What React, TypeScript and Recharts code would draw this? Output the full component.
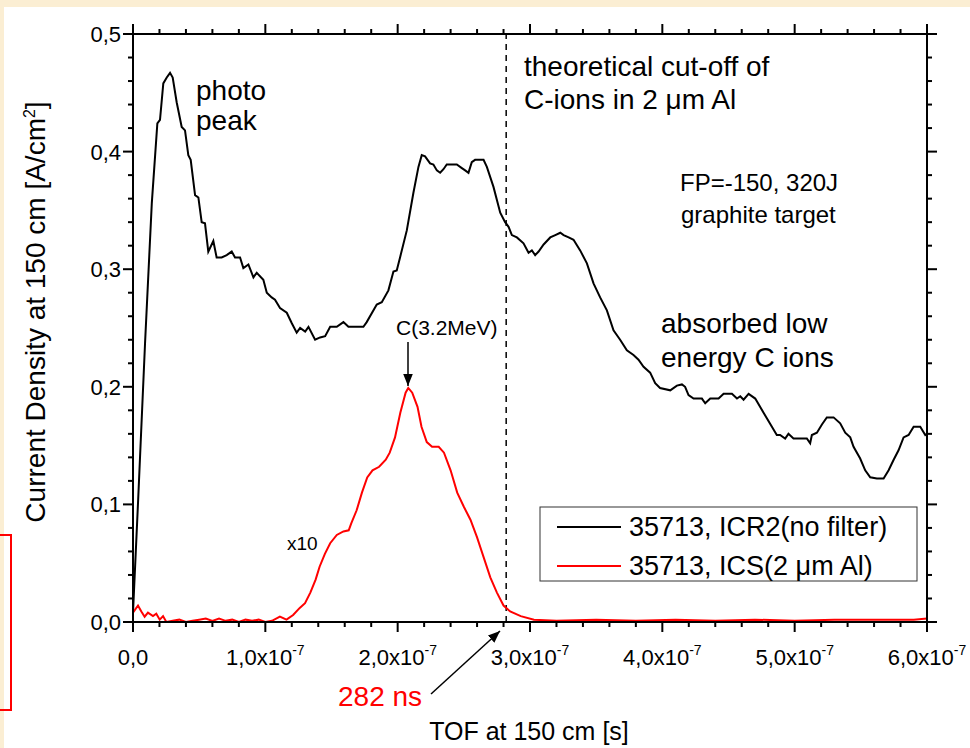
import React from "react";
import { LineChart, Line, XAxis, YAxis, ReferenceLine } from "recharts";

const FONT = '"Liberation Sans", Arial, Helvetica, sans-serif';

// 35713, ICR2 (no filter) - time of flight in ns, current density in A/cm2
const ICR2_TIME = [
  0, 3.9, 9.1, 14.2, 18.4, 20.4, 22.9, 25.5, 28.0, 30.0, 33.0, 36.8, 39.3, 41.8, 43.6, 46.9, 49.4,
  51.9, 54.4, 56.9, 60.7, 63.2, 67.0, 70.8, 74.6, 77.1, 80.9, 83.4, 87.2, 91.0, 93.5, 98.5, 101.1,
  104.8, 107.3, 111.1, 116.2, 120.0, 123.7, 126.3, 130.1, 132.6, 137.6, 141.4, 145.2, 149.0, 154.0,
  159.0, 162.8, 169.1, 174.1, 176.6, 184.2, 188.0, 193.0, 196.8, 199.3, 201.8, 206.9, 211.9, 215.7,
  218.2, 220.7, 224.5, 227.0, 229.6, 232.1, 234.6, 237.1, 244.7, 248.5, 251.0, 253.5, 256.0, 258.5,
  264.9, 267.4, 272.4, 277.5, 281.2, 283.8, 286.3, 290.1, 295.1, 298.9, 301.4, 303.9, 306.5, 310.3,
  315.3, 319.1, 322.9, 325.4, 329.2, 332.9, 337.9, 343.0, 348.0, 353.0, 358.1, 363.1, 368.1, 373.2,
  378.2, 382.0, 385.8, 390.8, 394.6, 398.3, 406.0, 411.0, 414.8, 417.2, 419.8, 423.6, 429.9, 432.4,
  436.2, 442.5, 446.3, 452.6, 456.4, 458.9, 461.4, 465.2, 470.2, 476.5, 486.5, 489.0, 492.8, 495.3,
  499.1, 509.2, 511.7, 513.0, 516.8, 520.6, 524.3, 529.4, 534.4, 538.2, 542.0, 544.5, 549.5, 553.3,
  557.1, 562.1, 567.2, 571.0, 574.8, 578.5, 582.3, 586.1, 589.9, 594.9, 598.7, 600,
];
const ICR2_DENSITY = [
  0.008, 0.104, 0.237, 0.356, 0.424, 0.427, 0.458, 0.463, 0.467, 0.463, 0.442, 0.421, 0.418, 0.397,
  0.393, 0.363, 0.361, 0.34, 0.339, 0.315, 0.324, 0.31, 0.31, 0.312, 0.315, 0.31, 0.31, 0.301,
  0.304, 0.293, 0.297, 0.291, 0.28, 0.276, 0.274, 0.267, 0.263, 0.254, 0.246, 0.25, 0.247, 0.251,
  0.24, 0.242, 0.243, 0.251, 0.251, 0.255, 0.251, 0.251, 0.251, 0.255, 0.27, 0.272, 0.282, 0.298,
  0.299, 0.31, 0.333, 0.365, 0.387, 0.397, 0.396, 0.39, 0.389, 0.384, 0.382, 0.385, 0.389, 0.389,
  0.386, 0.384, 0.382, 0.391, 0.393, 0.393, 0.387, 0.37, 0.348, 0.34, 0.336, 0.329, 0.327, 0.322,
  0.314, 0.316, 0.312, 0.315, 0.321, 0.327, 0.329, 0.331, 0.329, 0.327, 0.325, 0.316, 0.305, 0.288,
  0.276, 0.265, 0.248, 0.24, 0.231, 0.227, 0.223, 0.217, 0.212, 0.203, 0.199, 0.197, 0.201, 0.202,
  0.2, 0.193, 0.19, 0.19, 0.186, 0.19, 0.19, 0.194, 0.194, 0.19, 0.192, 0.189, 0.194, 0.19, 0.178,
  0.159, 0.159, 0.156, 0.16, 0.156, 0.156, 0.152, 0.159, 0.161, 0.168, 0.174, 0.174, 0.169, 0.161,
  0.157, 0.149, 0.139, 0.129, 0.123, 0.122, 0.122, 0.129, 0.138, 0.146, 0.157, 0.159, 0.166, 0.166,
  0.159, 0.16,
];

// 35713, ICS (2 um Al) - shown x10
const ICS_TIME = [
  0, 3.8, 6.3, 8.8, 11.3, 15.1, 17.6, 20.2, 22.7, 25.2, 30, 35, 40, 45, 50, 55, 60, 65, 70, 75, 80,
  85, 90, 95, 100, 105, 111, 116, 121, 126, 130, 134, 138, 141, 145, 149, 154, 159, 163, 165, 169,
  173, 177, 181, 186, 191, 194, 198, 202, 206, 208, 211, 215, 218, 222, 226, 231, 235, 240, 245,
  250, 255, 260, 265, 270, 275, 280, 285, 293, 303, 320, 350, 380, 410, 440, 470, 500, 530, 560,
  590, 600,
];
const ICS_DENSITY_X10 = [
  0.008, 0.014, 0.009, 0.0045, 0.008, 0.005, 0.007, 0.002, 0.005, 0.0, 0.001, 0.002, 0.0, 0.001,
  0.002, 0.003, 0.001, 0.003, 0.001, 0.002, 0.0, 0.002, 0.001, 0.002, 0.0, 0.001, 0.0045, 0.002,
  0.006, 0.012, 0.016, 0.025, 0.036, 0.047, 0.058, 0.067, 0.074, 0.077, 0.078, 0.084, 0.095, 0.11,
  0.123, 0.129, 0.132, 0.138, 0.144, 0.157, 0.178, 0.195, 0.199, 0.195, 0.183, 0.166, 0.153, 0.149,
  0.149, 0.144, 0.129, 0.11, 0.098, 0.087, 0.072, 0.055, 0.038, 0.025, 0.014, 0.009, 0.005, 0.002,
  0.001, 0.002, 0.001, 0.002, 0.001, 0.002, 0.001, 0.002, 0.002, 0.002, 0.003,
];

const X_MAJOR_TICKS = [0, 100, 200, 300, 400, 500, 600];
const Y_MAJOR_TICKS = [0, 0.1, 0.2, 0.3, 0.4, 0.5];
const CUTOFF_NS = 282;

const X_TICKS = Array.from({ length: 31 }, (_, i) => i * 20);
const Y_TICKS = Array.from({ length: 26 }, (_, i) => (i * 2) / 100);

const icr2Data = ICR2_TIME.map((t, i) => ({ t, j: ICR2_DENSITY[i] }));
const icsData = ICS_TIME.map((t, i) => ({ t, j: ICS_DENSITY_X10[i] }));

const isMajorX = (v: number) => X_MAJOR_TICKS.includes(Math.round(v));
const isMajorY = (v: number) => Y_MAJOR_TICKS.some((m) => Math.abs(m - v) < 1e-6);

const fmt = (v: number) => v.toFixed(1).replace(".", ",");

function BottomTick({ x, y, payload }: any) {
  const v = payload.value;
  const major = isMajorX(v);
  return (
    <g>
      <line x1={x} y1={y} x2={x} y2={y + (major ? 10 : 5)} stroke="#000" strokeWidth={2} />
      {major ? (
        <text x={x} y={y + 43} textAnchor="middle" fontSize={22} fontFamily={FONT} fill="#000">
          {v === 0 ? (
            "0,0"
          ) : (
            <>
              {fmt(v / 100)}x10
              <tspan dy={-10} fontSize={14}>
                -7
              </tspan>
            </>
          )}
        </text>
      ) : null}
    </g>
  );
}

function TopTick({ x, y, payload }: any) {
  const len = isMajorX(payload.value) ? 10 : 5;
  return <line x1={x} y1={y} x2={x} y2={y - len} stroke="#000" strokeWidth={2} />;
}

function LeftTick({ x, y, payload }: any) {
  const v = payload.value;
  const major = isMajorY(v);
  return (
    <g>
      <line x1={x} y1={y} x2={x - (major ? 10 : 5)} y2={y} stroke="#000" strokeWidth={2} />
      {major ? (
        <text x={x - 12} y={y} dy="0.36em" textAnchor="end" fontSize={22} fontFamily={FONT} fill="#000">
          {fmt(v)}
        </text>
      ) : null}
    </g>
  );
}

function RightTick({ x, y, payload }: any) {
  const len = isMajorY(payload.value) ? 10 : 5;
  return <line x1={x} y1={y} x2={x + len} y2={y} stroke="#000" strokeWidth={2} />;
}

function Annotations() {
  const t = { fontFamily: FONT, fill: "#000" };
  return (
    <svg
      width={970}
      height={748}
      style={{ position: "absolute", left: 0, top: 0, pointerEvents: "none" }}
    >
      <defs>
        <marker id="head" viewBox="0 0 10 10" refX="10" refY="5" markerWidth="8" markerHeight="8" orient="auto">
          <path d="M0,1 L10,5 L0,9 z" fill="#000" />
        </marker>
      </defs>
      <text {...t} fontSize={28}>
        <tspan x={196} y={100}>photo</tspan>
        <tspan x={196} y={130}>peak</tspan>
      </text>
      <text {...t} fontSize={28}>
        <tspan x={524} y={76}>theoretical cut-off of</tspan>
        <tspan x={524} y={109}>C-ions in 2 μm Al</tspan>
      </text>
      <text {...t} fontSize={24}>
        <tspan x={680} y={191}>FP=-150, 320J</tspan>
        <tspan x={681} y={223}>graphite target</tspan>
      </text>
      <text {...t} fontSize={28}>
        <tspan x={661} y={333}>absorbed low</tspan>
        <tspan x={661} y={367}>energy C ions</tspan>
      </text>
      <text {...t} x={396} y={335} fontSize={21}>C(3.2MeV)</text>
      <line x1={408} y1={342} x2={408} y2={386} stroke="#000" strokeWidth={1.5} markerEnd="url(#head)" />
      <text {...t} x={287} y={550} fontSize={19}>x10</text>
      <text x={338} y={706} fontSize={28} fontFamily={FONT} fill="#ff0000">282 ns</text>
      <line x1={431} y1={694} x2={500} y2={631} stroke="#000" strokeWidth={1.5} markerEnd="url(#head)" />

      {/* legend */}
      <rect x={540} y={507} width={377} height={74} fill="#fff" stroke="#333" strokeWidth={1} />
      <line x1={557} y1={527} x2={621} y2={527} stroke="#000" strokeWidth={2} />
      <text {...t} x={629} y={536} fontSize={27}>35713, ICR2(no filter)</text>
      <line x1={557} y1={566} x2={621} y2={566} stroke="#ff0000" strokeWidth={2} />
      <text {...t} x={629} y={575} fontSize={27}>35713, ICS(2 μm Al)</text>

      {/* axis titles */}
      <text {...t} x={529} y={740} fontSize={25} textAnchor="middle">TOF at 150 cm [s]</text>
      <text {...t} fontSize={28} textAnchor="middle" transform="translate(45,312) rotate(-90)">
        Current Density at 150 cm [A/cm
        <tspan dy={-10} fontSize={16}>2</tspan>
        <tspan dy={10}>]</tspan>
      </text>
    </svg>
  );
}

export default function App() {
  return (
    <div
      style={{
        position: "fixed",
        left: 0,
        top: 0,
        width: 970,
        height: 748,
        background: "#fbeed3",
        overflow: "hidden",
      }}
    >
      <div style={{ position: "absolute", left: 4, top: 7, right: 0, bottom: 0, background: "#fff" }} />
      <div
        style={{
          position: "absolute",
          left: -4,
          top: 534,
          width: 12,
          height: 173,
          border: "2px solid #ff0000",
        }}
      />
      <div style={{ position: "absolute", left: 0, top: 0 }}>
        <LineChart width={970} height={748} margin={{ top: 22, right: 31, bottom: 66, left: 73 }}>
          <XAxis
            xAxisId="b"
            type="number"
            dataKey="t"
            domain={[0, 600]}
            ticks={X_TICKS}
            interval={0}
            tickSize={0}
            tickMargin={0}
            height={60}
            axisLine={{ stroke: "#000", strokeWidth: 2 }}
            tickLine={false}
            tick={(p: any) => <BottomTick {...p} />}
            allowDataOverflow
          />
          <XAxis
            xAxisId="t"
            orientation="top"
            type="number"
            dataKey="t"
            domain={[0, 600]}
            ticks={X_TICKS}
            interval={0}
            tickSize={0}
            tickMargin={0}
            height={12}
            axisLine={{ stroke: "#000", strokeWidth: 2 }}
            tickLine={false}
            tick={(p: any) => <TopTick {...p} />}
            allowDataOverflow
          />
          <YAxis
            yAxisId="l"
            type="number"
            domain={[0, 0.5]}
            ticks={Y_TICKS}
            interval={0}
            tickSize={0}
            tickMargin={0}
            width={60}
            axisLine={{ stroke: "#000", strokeWidth: 2 }}
            tickLine={false}
            tick={(p: any) => <LeftTick {...p} />}
            allowDataOverflow
          />
          <YAxis
            yAxisId="r"
            orientation="right"
            type="number"
            domain={[0, 0.5]}
            ticks={Y_TICKS}
            interval={0}
            tickSize={0}
            tickMargin={0}
            width={12}
            axisLine={{ stroke: "#000", strokeWidth: 2 }}
            tickLine={false}
            tick={(p: any) => <RightTick {...p} />}
            allowDataOverflow
          />
          <ReferenceLine
            xAxisId="b"
            yAxisId="l"
            x={CUTOFF_NS}
            stroke="#000"
            strokeWidth={1.5}
            strokeDasharray="6 5"
          />
          <Line
            xAxisId="b"
            yAxisId="l"
            data={icr2Data}
            dataKey="j"
            type="linear"
            stroke="#000"
            strokeWidth={2}
            dot={false}
            isAnimationActive={false}
          />
          <Line
            xAxisId="b"
            yAxisId="l"
            data={icsData}
            dataKey="j"
            type="linear"
            stroke="#ff0000"
            strokeWidth={2}
            dot={false}
            isAnimationActive={false}
          />
        </LineChart>
      </div>
      <Annotations />
    </div>
  );
}
